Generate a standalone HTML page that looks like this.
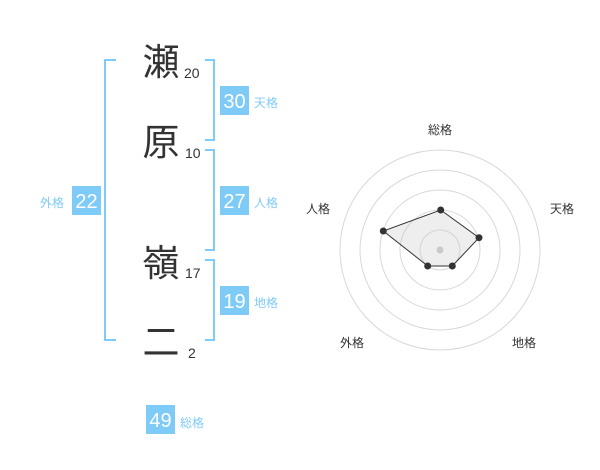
<!DOCTYPE html>
<html><head><meta charset="utf-8"><style>
html,body{margin:0;padding:0;background:#fff;}
svg{display:block;}
text{font-family:"Liberation Sans","Noto Sans CJK JP",sans-serif;}
</style></head><body>
<svg width="600" height="470" viewBox="0 0 600 470" xmlns="http://www.w3.org/2000/svg">
<g fill="none" stroke="#7fcbf7" stroke-width="2">
<polyline points="116,60 105,60 105,340 116,340"/>
<polyline points="205,60 214,60 214,140 205,140"/>
<polyline points="205,150 214,150 214,250 205,250"/>
<polyline points="205,260 214,260 214,340 205,340"/>
</g>
<g fill="#333" font-size="37" text-anchor="middle">
<text x="161" y="75">瀬</text>
<text x="161" y="155">原</text>
<text x="161" y="276">嶺</text>
<text x="161" y="355">二</text>
</g>
<g fill="#333" font-size="14">
<text x="184" y="78">20</text>
<text x="185" y="158">10</text>
<text x="185" y="278">17</text>
<text x="188" y="358">2</text>
</g>
<g fill="#7fcbf7">
<rect x="220" y="86" width="29" height="29"/>
<rect x="220" y="186" width="29" height="29"/>
<rect x="220" y="286" width="29" height="29"/>
<rect x="72" y="186" width="29" height="29"/>
<rect x="146" y="405" width="29" height="29"/>
</g>
<g fill="#fff" font-size="20" text-anchor="middle">
<text x="234.5" y="108">30</text>
<text x="234.5" y="208">27</text>
<text x="234.5" y="308">19</text>
<text x="86.5" y="208">22</text>
<text x="160.5" y="427">49</text>
</g>
<g fill="#7fcbf7" font-size="12">
<text x="254" y="107">天格</text>
<text x="254" y="207">人格</text>
<text x="254" y="307">地格</text>
<text x="40" y="207">外格</text>
<text x="180" y="427">総格</text>
</g>
<g fill="none" stroke="#d8d8d8" stroke-width="1">
<circle cx="440" cy="250" r="20"/>
<circle cx="440" cy="250" r="40"/>
<circle cx="440" cy="250" r="60"/>
<circle cx="440" cy="250" r="80"/>
<circle cx="440" cy="250" r="100"/>
</g>
<circle cx="440" cy="250" r="3.5" fill="#ccc"/>
<polygon points="440.7,210 479,237.7 452.3,266 427.7,266 383.3,231" fill="rgba(200,200,200,0.3)" stroke="#333" stroke-width="1"/>
<g fill="#333">
<circle cx="440.7" cy="210" r="3.5"/>
<circle cx="479" cy="237.7" r="3.5"/>
<circle cx="452.3" cy="266" r="3.5"/>
<circle cx="427.7" cy="266" r="3.5"/>
<circle cx="383.3" cy="231" r="3.5"/>
</g>
<g fill="#333" font-size="12" text-anchor="middle">
<text x="440" y="134">総格</text>
<text x="562" y="213">天格</text>
<text x="524" y="347">地格</text>
<text x="352" y="347">外格</text>
<text x="318" y="213">人格</text>
</g>
</svg>
</body></html>
